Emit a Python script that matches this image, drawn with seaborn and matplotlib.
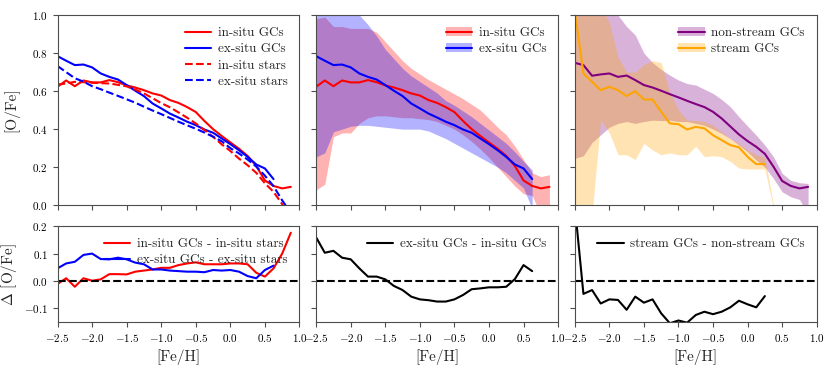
import matplotlib
matplotlib.use('Agg')
import matplotlib.pyplot as plt
import seaborn as sns
from matplotlib.patches import Patch
from matplotlib.lines import Line2D

# [Fe/H] bin centres
feh = [-2.5, -2.375, -2.25, -2.125, -2.0, -1.875, -1.75, -1.625, -1.5, -1.375,
       -1.25, -1.125, -1.0, -0.875, -0.75, -0.625, -0.5, -0.375, -0.25, -0.125,
       0.0, 0.125, 0.25, 0.375, 0.5, 0.625, 0.75, 0.875]

# median [O/Fe] tracks
insitu_gc = [0.623, 0.656, 0.626, 0.656, 0.646, 0.646, 0.658, 0.647, 0.630, 0.619,
             0.605, 0.588, 0.577, 0.553, 0.538, 0.516, 0.490, 0.443, 0.400, 0.364,
             0.330, 0.297, 0.259, 0.206, 0.130, 0.101, 0.088, 0.096]
exsitu_gc = [0.784, 0.760, 0.737, 0.740, 0.725, 0.693, 0.675, 0.661, 0.632, 0.602,
             0.574, 0.535, 0.509, 0.482, 0.461, 0.439, 0.421, 0.398, 0.381, 0.351,
             0.321, 0.289, 0.254, 0.214, 0.193, 0.137]
insitu_stars = [0.635, 0.640, 0.649, 0.647, 0.644, 0.642, 0.640, 0.633, 0.625, 0.608,
                0.588, 0.563, 0.537, 0.515, 0.488, 0.460, 0.430, 0.395, 0.360, 0.320,
                0.285, 0.245, 0.210, 0.170, 0.115, 0.070, 0.005, -0.060]
exsitu_stars = [0.732, 0.700, 0.668, 0.650, 0.626, 0.610, 0.592, 0.575, 0.557, 0.539,
                0.518, 0.498, 0.479, 0.459, 0.439, 0.420, 0.402, 0.382, 0.360, 0.336,
                0.300, 0.272, 0.240, 0.203, 0.155, 0.100, 0.025, -0.040]
nonstream_gc = [0.749, 0.737, 0.681, 0.688, 0.693, 0.675, 0.682, 0.658, 0.632, 0.619,
                0.602, 0.584, 0.567, 0.549, 0.532, 0.516, 0.491, 0.456, 0.414, 0.372,
                0.337, 0.307, 0.270, 0.202, 0.127, 0.101, 0.088, 0.096]
stream_gc = [1.02, 0.693, 0.649, 0.605, 0.623, 0.605, 0.574, 0.600, 0.556, 0.556,
             0.491, 0.430, 0.426, 0.398, 0.412, 0.404, 0.368, 0.342, 0.316, 0.304,
             0.254, 0.216, 0.216]

# scatter bands
insitu_hi = [0.98, 0.99, 0.94, 0.94, 0.93, 0.93, 0.93, 0.91, 0.86, 0.81,
             0.76, 0.72, 0.69, 0.66, 0.635, 0.61, 0.585, 0.56, 0.53, 0.50,
             0.456, 0.41, 0.37, 0.31, 0.24, 0.17, 0.15, 0.16]
insitu_lo = [0.08, 0.11, 0.36, 0.38, 0.38, 0.43, 0.46, 0.47, 0.47, 0.465,
             0.46, 0.46, 0.455, 0.45, 0.44, 0.42, 0.40, 0.37, 0.335, 0.295,
             0.25, 0.20, 0.15, 0.10, 0.06, 0.05, -0.05, -0.05]
exsitu_hi = [0.99, 1.05, 1.05, 1.05, 1.05, 1.0, 0.95, 0.89, 0.82, 0.77,
             0.72, 0.68, 0.65, 0.62, 0.59, 0.55, 0.525, 0.495, 0.465, 0.43,
             0.395, 0.36, 0.325, 0.28, 0.23, 0.185]
exsitu_lo = [0.254, 0.275, 0.386, 0.40, 0.415, 0.42, 0.42, 0.415, 0.41, 0.405,
             0.40, 0.40, 0.40, 0.39, 0.37, 0.35, 0.325, 0.30, 0.275, 0.25,
             0.225, 0.20, 0.17, 0.13, 0.09, -0.02]
nonstream_hi = [1.05, 1.05, 1.05, 1.05, 1.05, 1.0, 0.94, 0.895, 0.80, 0.75,
                0.714, 0.684, 0.658, 0.64, 0.632, 0.61, 0.588, 0.556, 0.518, 0.465,
                0.416, 0.368, 0.316, 0.254, 0.167, 0.13, 0.118, 0.114]
nonstream_lo = [0.246, 0.26, 0.33, 0.37, 0.41, 0.43, 0.44, 0.43, 0.44, 0.447,
                0.445, 0.447, 0.44, 0.44, 0.43, 0.42, 0.40, 0.377, 0.35, 0.316,
                0.28, 0.237, 0.20, 0.14, 0.07, 0.044, 0.03, -0.05]
stream_hi = [1.05, 1.05, 1.05, 1.05, 0.96, 0.78, 0.70, 0.70, 0.74, 0.76,
             0.75, 0.59, 0.50, 0.447, 0.445, 0.44, 0.42, 0.386, 0.35, 0.325,
             0.29, 0.265, 0.25, 0.0]
stream_lo = [-0.05, -0.05, -0.05, 0.45, 0.38, 0.265, 0.265, 0.24, 0.325, 0.29,
             0.265, 0.275, 0.265, 0.265, 0.31, 0.255, 0.26, 0.255, 0.23, 0.195,
             0.19, 0.19, 0.19, -0.02]

# differences
d_insitu = [-0.011, 0.010, -0.021, 0.010, 0.001, 0.006, 0.025, 0.025, 0.024, 0.034,
            0.038, 0.042, 0.048, 0.048, 0.058, 0.064, 0.068, 0.061, 0.061, 0.061,
            0.064, 0.064, 0.061, 0.030, 0.016, 0.046, 0.100, 0.176]
d_exsitu = [0.046, 0.064, 0.070, 0.095, 0.100, 0.080, 0.079, 0.085, 0.079, 0.067,
            0.061, 0.042, 0.042, 0.038, 0.036, 0.034, 0.034, 0.032, 0.040, 0.038,
            0.040, 0.034, 0.018, 0.010, 0.040, 0.056]
d_ex_in = [0.159, 0.103, 0.110, 0.085, 0.079, 0.046, 0.016, 0.016, 0.006, -0.018,
           -0.033, -0.057, -0.067, -0.070, -0.075, -0.075, -0.067, -0.051, -0.030, -0.027,
           -0.023, -0.023, -0.021, 0.007, 0.058, 0.036]
d_stream = [0.274, -0.047, -0.033, -0.082, -0.067, -0.069, -0.105, -0.057, -0.079, -0.067,
            -0.118, -0.154, -0.144, -0.152, -0.124, -0.112, -0.121, -0.112, -0.096, -0.072,
            -0.085, -0.096, -0.055]

sns.set_style('ticks')
plt.rcParams['font.family'] = 'serif'
plt.rcParams['font.serif'] = ['cmr10']
plt.rcParams['mathtext.fontset'] = 'cm'
plt.rcParams['axes.formatter.use_mathtext'] = True
plt.rcParams['axes.edgecolor'] = '0.3'
plt.rcParams['xtick.color'] = '0.3'
plt.rcParams['ytick.color'] = '0.3'
plt.rcParams['xtick.labelcolor'] = 'black'
plt.rcParams['ytick.labelcolor'] = 'black'

fig, axes = plt.subplots(2, 3, figsize=(8.3, 3.69), dpi=100, sharex=True,
                         gridspec_kw=dict(height_ratios=[190, 96]))
fig.subplots_adjust(left=0.0693, right=0.984, top=0.959, bottom=0.127,
                    wspace=0.069, hspace=0.147)

lw = 1.5
A = 0.3
leg_kw = dict(loc='upper right', frameon=False, fontsize=9.5,
              labelspacing=0.3, handletextpad=0.5)

def n(a):
    return feh[:len(a)]

# panel 1: GCs vs stars
ax = axes[0, 0]
sns.lineplot(x=n(insitu_gc), y=insitu_gc, color='red', lw=lw, ax=ax)
sns.lineplot(x=n(exsitu_gc), y=exsitu_gc, color='blue', lw=lw, ax=ax)
sns.lineplot(x=n(insitu_stars), y=insitu_stars, color='red', lw=lw, ls='--', ax=ax)
sns.lineplot(x=n(exsitu_stars), y=exsitu_stars, color='blue', lw=lw, ls='--', ax=ax)
ax.legend(handles=[Line2D([], [], color='red', lw=lw),
                   Line2D([], [], color='blue', lw=lw),
                   Line2D([], [], color='red', lw=lw, ls='--'),
                   Line2D([], [], color='blue', lw=lw, ls='--')],
          labels=['in-situ GCs', 'ex-situ GCs', 'in-situ stars', 'ex-situ stars'],
          **leg_kw)

# panel 2: in-situ vs ex-situ with scatter
ax = axes[0, 1]
ax.fill_between(n(insitu_hi), insitu_lo, insitu_hi, color='red', alpha=A, lw=0)
ax.fill_between(n(exsitu_hi), exsitu_lo, exsitu_hi, color='blue', alpha=A, lw=0)
sns.lineplot(x=n(insitu_gc), y=insitu_gc, color='red', lw=lw, ax=ax)
sns.lineplot(x=n(exsitu_gc), y=exsitu_gc, color='blue', lw=lw, ax=ax)
ax.legend(handles=[(Patch(color='red', alpha=A, lw=0), Line2D([], [], color='red', lw=lw)),
                   (Patch(color='blue', alpha=A, lw=0), Line2D([], [], color='blue', lw=lw))],
          labels=['in-situ GCs', 'ex-situ GCs'], **leg_kw)

# panel 3: stream vs non-stream
ax = axes[0, 2]
ax.fill_between(n(nonstream_hi), nonstream_lo, nonstream_hi, color='purple', alpha=A, lw=0)
ax.fill_between(n(stream_hi), stream_lo, stream_hi, color='orange', alpha=A, lw=0)
sns.lineplot(x=n(nonstream_gc), y=nonstream_gc, color='purple', lw=lw, ax=ax)
sns.lineplot(x=n(stream_gc), y=stream_gc, color='orange', lw=lw, ax=ax)
ax.legend(handles=[(Patch(color='purple', alpha=A, lw=0), Line2D([], [], color='purple', lw=lw)),
                   (Patch(color='orange', alpha=A, lw=0), Line2D([], [], color='orange', lw=lw))],
          labels=['non-stream GCs', 'stream GCs'], **leg_kw)

# bottom row: differences
ax = axes[1, 0]
sns.lineplot(x=n(d_insitu), y=d_insitu, color='red', lw=lw, ax=ax, label='in-situ GCs - in-situ stars')
sns.lineplot(x=n(d_exsitu), y=d_exsitu, color='blue', lw=lw, ax=ax, label='ex-situ GCs - ex-situ stars')

ax = axes[1, 1]
sns.lineplot(x=n(d_ex_in), y=d_ex_in, color='black', lw=lw, ax=ax, label='ex-situ GCs - in-situ GCs')

ax = axes[1, 2]
sns.lineplot(x=n(d_stream), y=d_stream, color='black', lw=lw, ax=ax, label='stream GCs - non-stream GCs')

for ax in axes[1]:
    ax.axhline(0, color='black', ls='--', lw=lw)
    ax.legend(**leg_kw)
    ax.set_ylim(-0.15, 0.2)
    ax.set_yticks([-0.1, 0.0, 0.1, 0.2])
    ax.set_xlabel('[Fe/H]', fontsize=11)

for ax in axes[0]:
    ax.set_ylim(0, 1)
    ax.set_yticks([0.0, 0.2, 0.4, 0.6, 0.8, 1.0])

for ax in axes.flat:
    ax.set_xlim(-2.5, 1.0)
    ax.set_xticks([-2.5, -2.0, -1.5, -1.0, -0.5, 0.0, 0.5, 1.0])
    ax.tick_params(labelsize=8)

for ax in list(axes[0, 1:]) + list(axes[1, 1:]):
    ax.tick_params(labelleft=False)
    ax.set_ylabel('')
for ax in axes[0]:
    ax.set_xlabel('')

axes[0, 0].set_ylabel('[O/Fe]', fontsize=11)
axes[1, 0].set_ylabel(r'$\Delta$ [O/Fe]', fontsize=11)
for ax in axes[:, 0]:
    ax.yaxis.set_label_coords(-0.16, 0.5)

fig.savefig('out.png', dpi=100)
